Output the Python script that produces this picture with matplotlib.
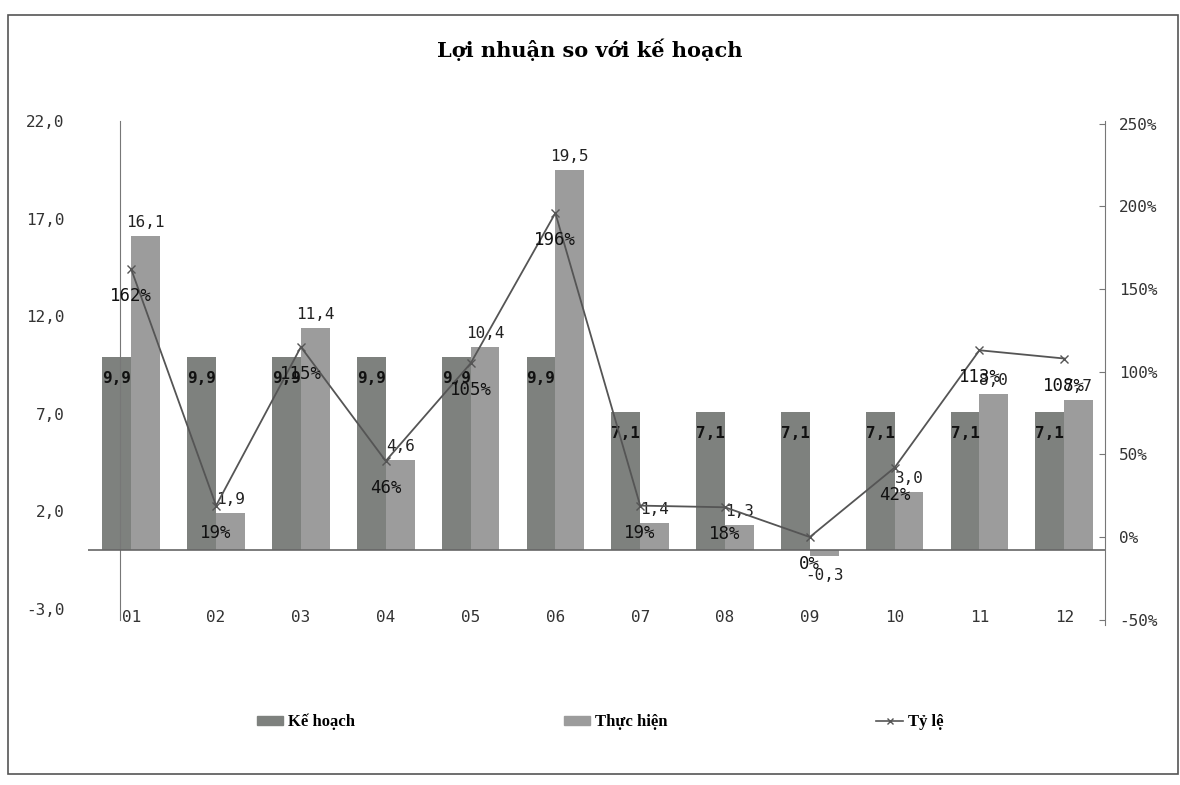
import matplotlib.pyplot as plt
import numpy as np
from matplotlib.lines import Line2D
from matplotlib.patches import Patch, Rectangle

months = ["01", "02", "03", "04", "05", "06", "07", "08", "09", "10", "11", "12"]
ke_hoach = [9.9, 9.9, 9.9, 9.9, 9.9, 9.9, 7.1, 7.1, 7.1, 7.1, 7.1, 7.1]
thuc_hien = [16.1, 1.9, 11.4, 4.6, 10.4, 19.5, 1.4, 1.3, -0.3, 3.0, 8.0, 7.7]
ty_le = [162, 19, 115, 46, 105, 196, 19, 18, 0, 42, 113, 108]
left_ticks = [-3, 2, 7, 12, 17, 22]
right_ticks = [-50, 0, 50, 100, 150, 200, 250]


def vn(v, d=1):
    return f"{v:.{d}f}".replace(".", ",")


W, H = 1180, 785
fig = plt.figure(figsize=(W / 100, H / 100), dpi=100)
fig.patches.append(Rectangle((8 / W, 1 - 774 / H), 1170 / W, 759 / H,
                             transform=fig.transFigure, fill=False,
                             edgecolor="#555555", linewidth=1.2))

ax = fig.add_axes([88 / W, 1 - 640 / H, (1105 - 88) / W, (640 - 121) / H])
x = np.arange(len(months))
bw = 0.34
plan_c = "#7e817e"
act_c = "#9c9c9c"
ax.bar(x - bw / 2, ke_hoach, bw, color=plan_c, zorder=2)
ax.bar(x + bw / 2, thuc_hien, bw, color=act_c, zorder=2)
ax.axhline(0, color="#666666", linewidth=1.2, zorder=3)
ax.set_xlim(-0.51, 11.48)
ax.set_ylim(-4.6, 22.0)

mono = "DejaVu Sans Mono"
for xi, v in zip(x, ke_hoach):
    ax.annotate(vn(v), (xi - bw / 2, v), xytext=(0, -14), textcoords="offset pixels",
                ha="center", va="top", fontsize=11.5, fontweight="bold",
                family=mono, color="#111111", zorder=5)
for xi, v in zip(x, thuc_hien):
    off, va = (6, "bottom") if v >= 0 else (-12, "top")
    ax.annotate(vn(v), (xi + bw / 2, v), xytext=(0, off), textcoords="offset pixels",
                ha="center", va=va, fontsize=11.5, family=mono, color="#222222", zorder=5)

for s in ["top", "right"]:
    ax.spines[s].set_visible(False)
ax.spines["left"].set_position(("data", -0.13))
ax.spines["left"].set_bounds(-3.6, 22)
ax.spines["left"].set_color("#777777")
ax.spines["bottom"].set_position(("data", -2.65))
ax.spines["bottom"].set_color("none")
ax.set_yticks(left_ticks)
ax.set_yticklabels([vn(v) for v in left_ticks], family=mono, fontsize=11.5, color="#333333")
ax.tick_params(axis="y", length=0, pad=40)
ax.set_xticks(x)
ax.set_xticklabels(months, family=mono, fontsize=11.5, color="#333333")
ax.tick_params(axis="x", length=0, pad=6)

ax2 = ax.twinx()
ax2.plot(x, ty_le, color="#555555", linewidth=1.3, marker="x", markersize=6,
         markeredgewidth=1.0, zorder=4)
ax2.set_ylim(-62.3, 251.7)
for s in ["top", "left", "bottom"]:
    ax2.spines[s].set_visible(False)
ax2.spines["right"].set_bounds(-53, 252)
ax2.spines["right"].set_color("#777777")
ax2.set_yticks(right_ticks)
ax2.set_yticklabels([f"{v}%" for v in right_ticks], family=mono, fontsize=11.5, color="#333333")
ax2.tick_params(axis="y", direction="in", length=4, pad=10, color="#777777")
for xi, v in zip(x, ty_le):
    ax2.annotate(f"{v}%", (xi, v), xytext=(0, -27), textcoords="offset pixels",
                 ha="center", va="center", fontsize=12.5, family=mono,
                 color="#111111", zorder=6)

fig.text(590 / W, 1 - 50 / H, "Lợi nhuận so với kế hoạch", ha="center", va="center",
         fontsize=15, fontweight="bold", family="DejaVu Serif")

handles = [Patch(color=plan_c), Patch(color=act_c),
           Line2D([], [], color="#555555", marker="x", markersize=5, linewidth=1.2)]
fig.legend(handles, ["Kế hoạch", "Thực hiện", "Tỷ lệ"], ncol=3, loc="center",
           bbox_to_anchor=(600 / W, 1 - 722 / H), frameon=False,
           prop={"family": "Liberation Serif", "weight": "bold", "size": 12},
           handlelength=1.6, handleheight=0.4, handletextpad=0.3, columnspacing=12.5)

fig.savefig("out.png", dpi=100)
